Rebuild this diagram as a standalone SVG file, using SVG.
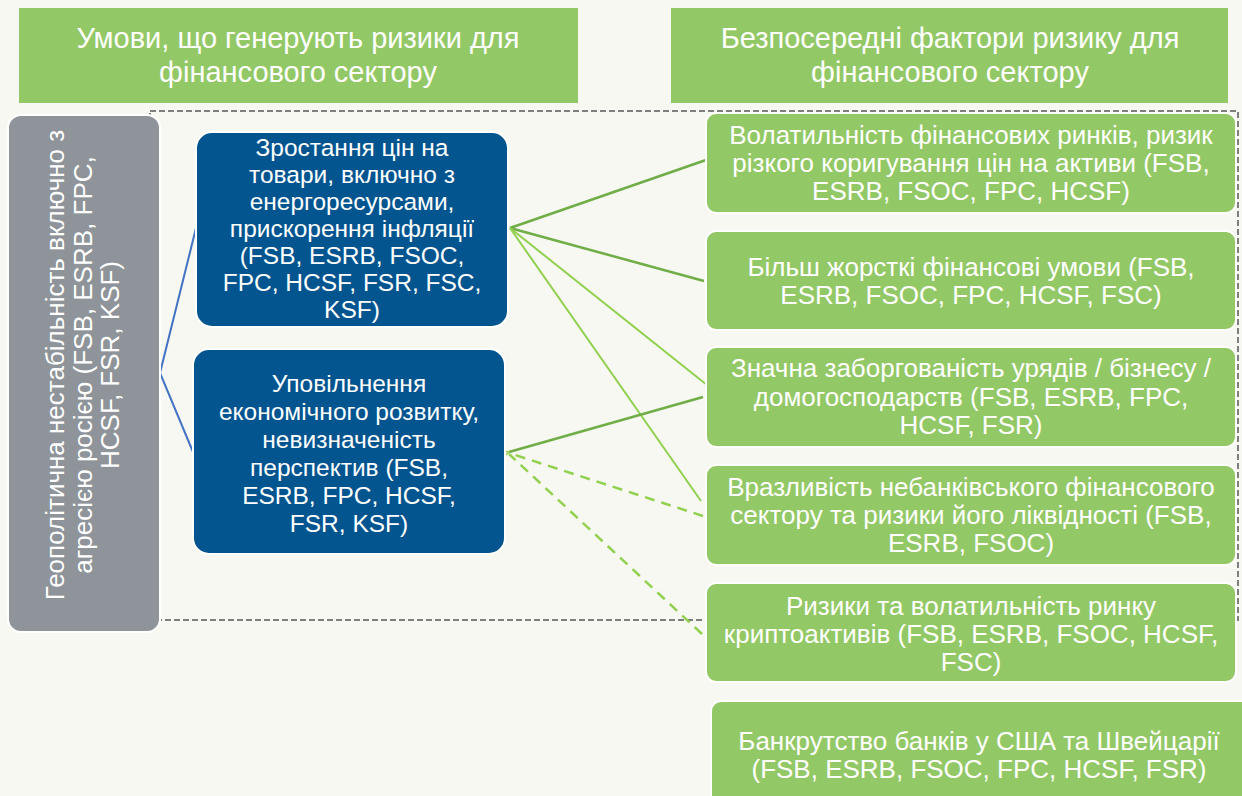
<svg xmlns="http://www.w3.org/2000/svg" width="1242" height="796" viewBox="0 0 1242 796">
<defs>
<style>
.t{font-family:"Liberation Sans",Arial,sans-serif;fill:#fff;text-anchor:middle}
.hd{font-size:29px}
.bl{font-size:24.5px}
.gr{font-size:26px}
.gy{font-size:26px}
.hbox{fill:#93C866}
.gbox{fill:#93C866;stroke:#fff;stroke-width:2}
.bbox{fill:#03558F;stroke:#fff;stroke-width:2}
.dk{stroke:#70AD47;stroke-width:2.5;fill:none}
.lt{stroke:#92D050;stroke-width:2;fill:none}
.ds{stroke:#92D050;stroke-width:2.5;fill:none;stroke-dasharray:10 7}
.bu{stroke:#4472C4;stroke-width:2;fill:none}
</style>
<marker id="ah" viewBox="0 0 10 10" refX="1" refY="5" markerWidth="7" markerHeight="7" orient="auto-start-reverse" markerUnits="userSpaceOnUse">
<path d="M10,0 L1,5 L10,10" fill="none" stroke="#92D050" stroke-width="2"/>
</marker>
</defs>
<rect width="1242" height="796" fill="#F6F8F1"/>
<rect x="150" y="111" width="1088" height="509" fill="none" stroke="#7F7F7F" stroke-width="2" stroke-dasharray="6 3"/>
<g id="header-left">
<rect class="hbox" x="19" y="8" width="559" height="95"/>
<text class="t hd" x="298" y="48">Умови, що генерують ризики для</text>
<text class="t hd" x="298" y="82">фінансового сектору</text>
</g>
<g id="header-right">
<rect class="hbox" x="671" y="8" width="557" height="95"/>
<text class="t hd" x="950" y="48">Безпосередні фактори ризику для</text>
<text class="t hd" x="950" y="82">фінансового сектору</text>
</g>
<g id="connectors">
<path class="bu" d="M196,228 L160,373 L193,452"/>
<path class="dk" d="M510,228 L706,160"/>
<path class="dk" d="M510,228 L704,281"/>
<path class="lt" d="M510,228 L707,385"/>
<path class="lt" d="M510,228 L701,501"/>
<path class="dk" d="M703,397 L509,452" marker-end="url(#ah)"/>
<path class="ds" d="M703,516 L509,453"/>
<path class="ds" d="M702,634 L509,454"/>
</g>
<g id="geo">
<rect x="8" y="115" width="152" height="517" rx="13" fill="#8E9499" stroke="#fff" stroke-width="2"/>
<g transform="translate(84,365) rotate(-90)">
<text class="t gy" x="0" y="-20">Геополітична нестабільність включно з</text>
<text class="t gy" x="0" y="8">агресією росією  (FSB, ESRB, FPC,</text>
<text class="t gy" x="0" y="35">HCSF, FSR, KSF)</text>
</g>
</g>
<g id="prices">
<rect class="bbox" x="196" y="132" width="312" height="195" rx="16"/>
<text class="t bl" x="352" y="156">Зростання цін на</text>
<text class="t bl" x="352" y="183">товари, включно з</text>
<text class="t bl" x="352" y="210">енергоресурсами,</text>
<text class="t bl" x="352" y="237">прискорення інфляції</text>
<text class="t bl" x="352" y="264">(FSB, ESRB, FSOC,</text>
<text class="t bl" x="352" y="291">FPC, HCSF, FSR, FSC,</text>
<text class="t bl" x="352" y="318">KSF)</text>
</g>
<g id="slowdown">
<rect class="bbox" x="193" y="349" width="312" height="205" rx="16"/>
<text class="t bl" x="349" y="392">Уповільнення</text>
<text class="t bl" x="349" y="420">економічного розвитку,</text>
<text class="t bl" x="349" y="448">невизначеність</text>
<text class="t bl" x="349" y="476">перспектив (FSB,</text>
<text class="t bl" x="349" y="504">ESRB, FPC, HCSF,</text>
<text class="t bl" x="349" y="532">FSR, KSF)</text>
</g>
<g id="volatility">
<rect class="gbox" x="706" y="113" width="530" height="100" rx="10"/>
<text class="t gr" x="971" y="144">Волатильність фінансових ринків, ризик</text>
<text class="t gr" x="971" y="172">різкого коригування цін на активи (FSB,</text>
<text class="t gr" x="971" y="200">ESRB, FSOC, FPC, HCSF)</text>
</g>
<g id="tighter">
<rect class="gbox" x="706" y="231" width="530" height="99" rx="10"/>
<text class="t gr" x="971" y="276">Більш жорсткі фінансові умови (FSB,</text>
<text class="t gr" x="971" y="304">ESRB, FSOC, FPC, HCSF, FSC)</text>
</g>
<g id="debt">
<rect class="gbox" x="706" y="347" width="530" height="100" rx="10"/>
<text class="t gr" x="971" y="377">Значна заборгованість урядів / бізнесу /</text>
<text class="t gr" x="971" y="406">домогосподарств (FSB, ESRB, FPC,</text>
<text class="t gr" x="971" y="434">HCSF, FSR)</text>
</g>
<g id="nonbank">
<rect class="gbox" x="706" y="465" width="530" height="100" rx="10"/>
<text class="t gr" x="971" y="496">Вразливість небанківського фінансового</text>
<text class="t gr" x="971" y="524">сектору та ризики його ліквідності (FSB,</text>
<text class="t gr" x="971" y="552">ESRB, FSOC)</text>
</g>
<g id="crypto">
<rect class="gbox" x="706" y="583" width="530" height="99" rx="10"/>
<text class="t gr" x="971" y="615">Ризики та волатильність ринку</text>
<text class="t gr" x="971" y="643">криптоактивів (FSB, ESRB, FSOC, HCSF,</text>
<text class="t gr" x="971" y="671">FSC)</text>
</g>
<g id="banks">
<rect class="gbox" x="711" y="701" width="545" height="110" rx="10"/>
<text class="t gr" x="979" y="750">Банкрутство банків у США та Швейцарії</text>
<text class="t gr" x="979" y="778">(FSB, ESRB, FSOC, FPC, HCSF, FSR)</text>
</g>
</svg>
